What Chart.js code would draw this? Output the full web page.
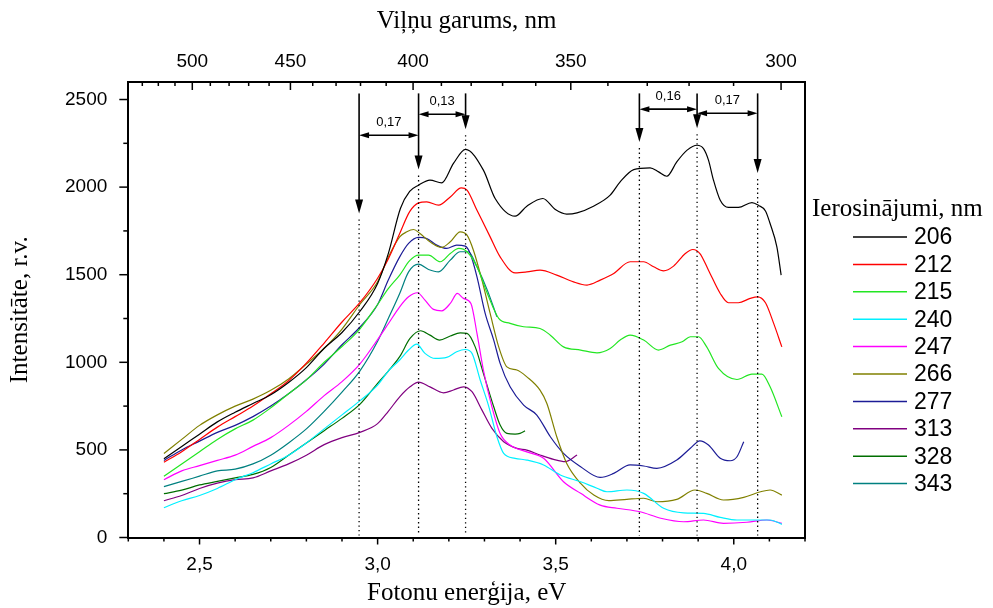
<!DOCTYPE html>
<html lang="lv">
<head>
<meta charset="UTF-8">
<title>Intensitāte pret fotonu enerģiju</title>
<script src="https://cdn.jsdelivr.net/npm/chart.js@4"></script>
<style>
  body { margin: 0; background: #fff; }
</style>
</head>
<body>
<canvas id="spectra" width="993" height="608"></canvas>
<script>
// luminescence spectra: [photon energy eV, intensity r.v.], one list per excitation wavelength
const s206 = [[2.40,450],[2.45,520],[2.50,590],[2.55,660],[2.60,715],[2.65,765],[2.70,815],[2.75,885],[2.80,970],[2.85,1080],[2.90,1170],[2.95,1290],[3.00,1450],[3.03,1620],[3.064,1878],[3.09,1975],[3.115,2011],[3.147,2040],[3.18,2024],[3.213,2135],[3.247,2215],[3.297,2097],[3.33,1935],[3.386,1834],[3.419,1891],[3.464,1935],[3.499,1872],[3.531,1846],[3.56,1853],[3.606,1891],[3.653,1954],[3.681,2030],[3.719,2100],[3.765,2110],[3.789,2087],[3.812,2062],[3.84,2144],[3.869,2211],[3.897,2239],[3.915,2220],[3.929,2154],[3.943,2040],[3.962,1925],[3.985,1884],[4.013,1884],[4.051,1912],[4.07,1895],[4.089,1864],[4.102,1792],[4.121,1659],[4.133,1498]];
const s212 = [[2.40,430],[2.45,490],[2.50,560],[2.55,630],[2.60,690],[2.65,750],[2.70,820],[2.75,895],[2.80,995],[2.85,1110],[2.90,1230],[2.95,1340],[3.00,1480],[3.03,1590],[3.062,1735],[3.09,1860],[3.115,1910],[3.138,1916],[3.171,1897],[3.204,1944],[3.235,1996],[3.251,1983],[3.279,1868],[3.316,1716],[3.344,1602],[3.386,1511],[3.419,1516],[3.456,1526],[3.503,1498],[3.55,1459],[3.588,1441],[3.625,1469],[3.663,1507],[3.709,1574],[3.747,1574],[3.775,1545],[3.803,1522],[3.831,1549],[3.864,1621],[3.885,1644],[3.905,1621],[3.929,1526],[3.962,1393],[3.985,1340],[4.013,1340],[4.046,1365],[4.067,1374],[4.089,1340],[4.112,1222],[4.135,1088]];
const s215 = [[2.40,350],[2.45,420],[2.50,490],[2.55,560],[2.60,620],[2.65,670],[2.70,740],[2.75,820],[2.80,900],[2.85,1000],[2.90,1090],[2.95,1190],[3.00,1330],[3.03,1420],[3.062,1498],[3.09,1580],[3.115,1612],[3.143,1612],[3.176,1574],[3.204,1621],[3.228,1650],[3.251,1631],[3.279,1545],[3.308,1393],[3.34,1251],[3.372,1222],[3.41,1203],[3.456,1193],[3.485,1155],[3.522,1088],[3.57,1070],[3.616,1054],[3.653,1079],[3.681,1127],[3.709,1155],[3.747,1127],[3.789,1070],[3.822,1098],[3.855,1117],[3.878,1146],[3.901,1146],[3.924,1088],[3.957,965],[4.009,902],[4.051,933],[4.079,933],[4.102,860],[4.135,689]];
const s240 = [[2.40,170],[2.45,210],[2.50,240],[2.55,280],[2.60,330],[2.65,370],[2.70,420],[2.75,470],[2.80,540],[2.85,620],[2.90,700],[2.95,780],[3.00,870],[3.03,950],[3.062,1013],[3.087,1070],[3.11,1104],[3.133,1051],[3.162,1022],[3.194,1028],[3.222,1060],[3.246,1073],[3.265,1051],[3.288,899],[3.311,756],[3.335,575],[3.354,480],[3.386,452],[3.419,442],[3.466,414],[3.513,357],[3.57,318],[3.616,281],[3.644,261],[3.70,271],[3.747,252],[3.803,167],[3.859,141],[3.915,138],[3.962,115],[4.009,100],[4.056,100],[4.102,100],[4.135,75]];
const s247 = [[2.40,330],[2.45,380],[2.50,410],[2.55,440],[2.60,470],[2.65,520],[2.70,570],[2.75,640],[2.80,720],[2.85,810],[2.90,890],[2.95,990],[3.00,1130],[3.03,1220],[3.062,1317],[3.087,1374],[3.112,1397],[3.133,1355],[3.157,1302],[3.18,1294],[3.204,1336],[3.224,1393],[3.241,1365],[3.262,1336],[3.279,1165],[3.297,956],[3.321,746],[3.344,594],[3.372,528],[3.419,489],[3.466,452],[3.522,318],[3.57,252],[3.625,185],[3.672,167],[3.737,147],[3.795,110],[3.859,90],[3.915,100],[3.971,81],[4.037,87],[4.093,100],[4.135,81]];
const s266 = [[2.40,480],[2.45,560],[2.50,640],[2.55,700],[2.60,750],[2.65,790],[2.70,840],[2.75,905],[2.80,990],[2.85,1080],[2.90,1190],[2.95,1330],[3.00,1460],[3.03,1600],[3.062,1716],[3.082,1745],[3.101,1758],[3.119,1735],[3.147,1688],[3.18,1656],[3.204,1688],[3.232,1745],[3.251,1726],[3.269,1640],[3.293,1469],[3.316,1279],[3.34,1088],[3.363,974],[3.391,956],[3.419,917],[3.456,841],[3.475,766],[3.503,575],[3.531,423],[3.57,309],[3.607,242],[3.649,210],[3.70,218],[3.747,224],[3.784,204],[3.84,218],[3.891,271],[3.924,252],[3.971,214],[4.028,229],[4.075,261],[4.102,271],[4.135,242]];
const s277 = [[2.40,440],[2.45,500],[2.50,550],[2.55,600],[2.60,640],[2.65,690],[2.70,750],[2.75,820],[2.80,900],[2.85,990],[2.90,1100],[2.95,1200],[3.00,1330],[3.03,1470],[3.062,1602],[3.087,1679],[3.115,1713],[3.138,1707],[3.166,1669],[3.194,1650],[3.222,1669],[3.246,1663],[3.26,1621],[3.279,1488],[3.302,1279],[3.326,1127],[3.344,994],[3.372,860],[3.41,756],[3.447,699],[3.485,575],[3.522,480],[3.57,404],[3.625,343],[3.663,366],[3.709,414],[3.747,408],[3.784,395],[3.84,442],[3.878,509],[3.905,552],[3.929,528],[3.962,452],[3.99,438],[4.009,461],[4.028,547]];
const s313 = [[2.40,210],[2.45,240],[2.50,280],[2.55,310],[2.60,330],[2.65,340],[2.70,380],[2.75,420],[2.80,470],[2.85,530],[2.90,570],[2.95,600],[3.00,650],[3.03,720],[3.062,803],[3.091,860],[3.115,887],[3.147,860],[3.185,826],[3.213,842],[3.241,860],[3.265,832],[3.293,727],[3.321,623],[3.354,547],[3.391,509],[3.419,499],[3.456,471],[3.494,446],[3.527,433],[3.56,471]];
const s328 = [[2.40,250],[2.45,270],[2.50,300],[2.55,320],[2.60,340],[2.65,360],[2.70,400],[2.75,470],[2.80,540],[2.85,610],[2.90,680],[2.95,760],[3.00,880],[3.03,950],[3.062,1032],[3.091,1136],[3.121,1180],[3.147,1155],[3.174,1127],[3.204,1150],[3.232,1168],[3.251,1165],[3.274,1088],[3.297,937],[3.326,746],[3.344,642],[3.363,594],[3.386,590],[3.40,594],[3.414,609]];
const s343 = [[2.40,290],[2.45,320],[2.50,350],[2.55,380],[2.60,390],[2.65,420],[2.70,470],[2.75,540],[2.80,620],[2.85,720],[2.90,830],[2.95,950],[3.00,1120],[3.03,1250],[3.062,1393],[3.087,1516],[3.115,1560],[3.143,1530],[3.171,1516],[3.204,1583],[3.232,1631],[3.255,1631],[3.279,1545],[3.308,1412],[3.335,1260]];

const seriesData = [s206, s212, s215, s240, s247, s266, s277, s313, s328, s343];
const seriesNames = ['206', '212', '215', '240', '247', '266', '277', '313', '328', '343'];
const seriesColors = ['#000000', '#ff0000', '#22e622', '#00f0ff', '#ff00ff', '#808000', '#1c1c96', '#800080', '#006e00', '#008080'];

// axis ticks
const bottomTicks = [2.5, 3.0, 3.5, 4.0];
const topTicksNm = [500, 450, 400, 350, 300];
const leftTicks = [0, 500, 1000, 1500, 2000, 2500];
const HC = 1239.84; // eV*nm

// marked peaks (eV) with arrow tip heights, and the gaps between them
const peakE = [2.948, 3.115, 3.247, 3.735, 3.897, 4.067];
const arrowTip = [1850, 2100, 2330, 2257, 2336, 2080];
const arrowTop = 2535;
const gaps = [
  { from: 0, to: 1, text: '0,17', level: 2296 },
  { from: 1, to: 2, text: '0,13', level: 2416 },
  { from: 3, to: 4, text: '0,16', level: 2445 },
  { from: 4, to: 5, text: '0,17', level: 2422 }
];

Chart.defaults.font.family = '"Liberation Sans", Arial, sans-serif';
Chart.defaults.color = '#000';

function line(ctx, x1, y1, x2, y2) {
  ctx.beginPath(); ctx.moveTo(x1, y1); ctx.lineTo(x2, y2); ctx.stroke();
}

// minor/major tick marks and the right frame edge
const tickMarks = {
  id: 'tickMarks',
  afterDraw(chart) {
    const { ctx, chartArea: a, scales } = chart;
    ctx.save();
    ctx.strokeStyle = '#000';
    ctx.lineWidth = 1.5;
    for (let i = 23; i <= 42; i++) {
      const x = scales.x.getPixelForValue(i / 10);
      line(ctx, x, a.bottom, x, a.bottom + (i % 5 === 0 ? 7 : 4));
    }
    for (let nm = 300; nm <= 540; nm += 10) {
      const e = HC / nm;
      if (e < 2.3 || e > 4.2) continue;
      const x = scales.x2.getPixelForValue(e);
      line(ctx, x, a.top, x, a.top + (nm % 50 === 0 ? 8 : 4));
    }
    for (let v = 0; v <= 2500; v += 250) {
      const y = scales.y.getPixelForValue(v);
      line(ctx, a.left - (v % 500 === 0 ? 9 : 5), y, a.left, y);
    }
    ctx.lineWidth = 2;
    line(ctx, a.right, a.top - 1, a.right, a.bottom + 1);
    ctx.restore();
  }
};

// peak arrows, dotted guide lines and gap labels
const peakMarks = {
  id: 'peakMarks',
  afterDatasetsDraw(chart) {
    const { ctx, scales: { x, y } } = chart;
    ctx.save();
    ctx.strokeStyle = '#000';
    ctx.fillStyle = '#000';
    peakE.forEach((e, i) => {
      const px = x.getPixelForValue(e);
      const tip = y.getPixelForValue(arrowTip[i]);
      ctx.setLineDash([1.3, 3.2]);
      ctx.lineWidth = 1.3;
      line(ctx, px, tip + 6, px, y.getPixelForValue(0) - 2);
      ctx.setLineDash([]);
      ctx.lineWidth = 1.6;
      line(ctx, px, y.getPixelForValue(arrowTop), px, tip - 10);
      ctx.beginPath();
      ctx.moveTo(px, tip); ctx.lineTo(px - 4, tip - 14); ctx.lineTo(px + 4, tip - 14);
      ctx.closePath(); ctx.fill();
    });
    ctx.font = '13px "Liberation Sans", Arial, sans-serif';
    ctx.textAlign = 'center';
    ctx.textBaseline = 'middle';
    gaps.forEach(g => {
      const x1 = x.getPixelForValue(peakE[g.from]);
      const x2 = x.getPixelForValue(peakE[g.to]);
      const py = y.getPixelForValue(g.level);
      ctx.lineWidth = 1.6;
      line(ctx, x1 + 6, py, x2 - 6, py);
      ctx.beginPath();
      ctx.moveTo(x1, py); ctx.lineTo(x1 + 10, py - 3); ctx.lineTo(x1 + 10, py + 3); ctx.closePath(); ctx.fill();
      ctx.beginPath();
      ctx.moveTo(x2, py); ctx.lineTo(x2 - 10, py - 3); ctx.lineTo(x2 - 10, py + 3); ctx.closePath(); ctx.fill();
      ctx.fillText(g.text, (x1 + x2) / 2, py - 13);
    });
    ctx.restore();
  }
};

// legend on the right with its title
const sideLegend = {
  id: 'sideLegend',
  afterDraw(chart) {
    const { ctx } = chart;
    ctx.save();
    ctx.fillStyle = '#000';
    ctx.textBaseline = 'middle';
    ctx.textAlign = 'left';
    ctx.font = '25px "Liberation Serif", "Times New Roman", serif';
    ctx.fillText('Ierosinājumi, nm', 812, 209);
    ctx.font = '23px "Liberation Sans", Arial, sans-serif';
    chart.data.datasets.forEach((ds, i) => {
      const yy = 237 + i * 27.4;
      ctx.strokeStyle = ds.borderColor;
      ctx.lineWidth = 1.5;
      line(ctx, 853, yy, 907, yy);
      ctx.fillText(ds.label, 914, yy + 1);
    });
    ctx.restore();
  }
};

const titleFont = { family: '"Liberation Serif", "Times New Roman", serif', size: 25 };

new Chart(document.getElementById('spectra'), {
  type: 'line',
  data: {
    datasets: seriesData.map((d, i) => ({
      label: seriesNames[i],
      data: d,
      borderColor: seriesColors[i],
      borderWidth: 1.2,
      pointRadius: 0,
      fill: false,
      cubicInterpolationMode: 'monotone'
    }))
  },
  options: {
    responsive: false,
    animation: false,
    layout: { padding: { left: 0, right: 188, top: 0, bottom: 0 } },
    plugins: { legend: { display: false }, tooltip: { enabled: false } },
    scales: {
      x: {
        type: 'linear', position: 'bottom', min: 2.3, max: 4.2,
        afterBuildTicks: s => { s.ticks = bottomTicks.map(v => ({ value: v })); },
        afterFit: s => { s.height = 70.5; },
        grid: { display: false },
        border: { display: true, color: '#000', width: 2 },
        ticks: { padding: 8, font: { size: 19 }, maxRotation: 0, autoSkip: false,
                 callback: v => v.toFixed(1).replace('.', ',') },
        title: { display: true, text: 'Fotonu enerģija, eV', font: titleFont, padding: { top: 0, bottom: 0 } }
      },
      x2: {
        type: 'linear', axis: 'x', position: 'top', min: 2.3, max: 4.2,
        afterBuildTicks: s => { s.ticks = topTicksNm.map(nm => ({ value: HC / nm })); },
        afterFit: s => { s.height = 82; },
        grid: { display: false },
        border: { display: true, color: '#000', width: 2 },
        ticks: { padding: 1, font: { size: 19 }, maxRotation: 0, autoSkip: false,
                 callback: v => String(Math.round(HC / v)) },
        title: { display: true, text: 'Viļņu garums, nm', font: titleFont, padding: { top: 6, bottom: 0 } }
      },
      y: {
        type: 'linear', position: 'left', min: 0, max: 2600,
        afterBuildTicks: s => { s.ticks = leftTicks.map(v => ({ value: v })); },
        afterFit: s => { s.width = 128.3; },
        grid: { display: false },
        border: { display: true, color: '#000', width: 2 },
        ticks: { padding: 13, font: { size: 19 }, callback: v => String(v) },
        title: { display: true, text: 'Intensitāte, r.v.', font: titleFont, padding: { top: 5, bottom: 0 } }
      }
    }
  },
  plugins: [tickMarks, peakMarks, sideLegend]
});
</script>
</body>
</html>
